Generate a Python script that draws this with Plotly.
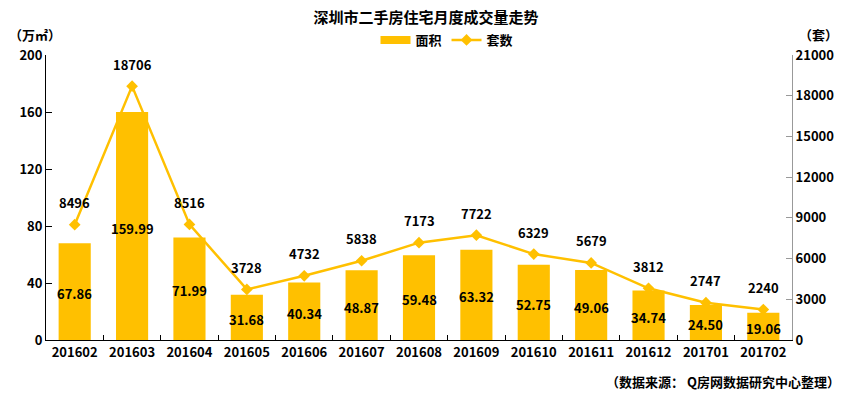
import plotly.graph_objects as go

months = ["201602","201603","201604","201605","201606","201607","201608","201609","201610","201611","201612","201701","201702"]
area = [67.86,159.99,71.99,31.68,40.34,48.87,59.48,63.32,52.75,49.06,34.74,24.50,19.06]
units = [8496,18706,8516,3728,4732,5838,7173,7722,6329,5679,3812,2747,2240]
left_ticks = [0,40,80,120,160,200]
right_ticks = [0,3000,6000,9000,12000,15000,18000,21000]

GOLD = "#FFC000"
FONT = "Noto Sans CJK SC"
L, R, T, B = 46, 60, 55, 55
W, H = 852, 395
PW, PH = W - L - R, H - T - B

def px(xp):
    return (xp - L) / PW

def py(yp):
    return (H - B - yp) / PH

lblfont = dict(family=FONT, size=13, color="black", weight="bold")

fig = go.Figure()
fig.add_trace(go.Bar(
    x=months, y=area, name="面积", marker=dict(color=GOLD, line=dict(width=0)), showlegend=False,
))
# legend-only entry giving a wide rectangular swatch for the bar series
fig.add_trace(go.Scatter(
    x=[None], y=[None], name="面积", mode="lines", line=dict(color=GOLD, width=8),
))
fig.add_trace(go.Scatter(
    x=months, y=units, name="套数", yaxis="y2", mode="lines+markers",
    line=dict(color=GOLD, width=2.5), marker=dict(symbol="diamond", size=9, color=GOLD),
))
for i, v in enumerate(area):
    fig.add_annotation(x=i, y=v / 2, xref="x", yref="y", text=f"{v:.2f}", showarrow=False,
                       xanchor="center", yanchor="middle", yshift=-2, font=lblfont)
for i, u in enumerate(units):
    fig.add_annotation(x=i, y=u, xref="x", yref="y2", text=str(u), showarrow=False,
                       xanchor="center", yanchor="middle", yshift=22, font=lblfont)

tickfont = dict(family=FONT, size=13, color="black", weight="bold")
fig.update_layout(
    width=W, height=H, plot_bgcolor="white", paper_bgcolor="white",
    margin=dict(l=L, r=R, t=T, b=B, autoexpand=False),
    font=dict(family=FONT, size=12, color="black"),
    title=dict(text="<b>深圳市二手房住宅月度成交量走势</b>", x=0.5, xanchor="center", y=1 - 18 / H, yanchor="middle",
               font=dict(family=FONT, size=15, color="black")),
    legend=dict(orientation="h", x=px(447), xanchor="center", y=py(40), yanchor="middle",
                font=dict(family=FONT, size=13, color="black", weight="bold"),
                traceorder="normal"),
    bargap=0.44,
    xaxis=dict(type="category", categoryorder="array", categoryarray=months, range=[-0.5, len(months) - 0.5],
               showline=True, linecolor="black", linewidth=1, ticks="inside", ticklen=5,
               tickcolor="black", tickson="boundaries", tickangle=0, tickfont=tickfont, automargin=False),
    yaxis=dict(range=[0, 200], tickvals=left_ticks, showgrid=False, showline=True, linecolor="black",
               ticks="inside", ticklen=6, tickcolor="black", zeroline=False, tickfont=tickfont,
               automargin=False),
    yaxis2=dict(range=[0, 21000], tickvals=right_ticks, tickformat="d", overlaying="y", side="right",
                showgrid=False, showline=True, linecolor="#999999", ticks="inside", ticklen=6,
                tickcolor="#999999", zeroline=False, tickfont=tickfont, automargin=False),
)
fig.add_annotation(x=px(35), y=py(34), xref="paper", yref="paper", text="<b>（万㎡）</b>", showarrow=False,
                   xanchor="center", yanchor="middle", font=dict(family=FONT, size=13, color="black"))
fig.add_annotation(x=px(818), y=py(34), xref="paper", yref="paper", text="<b>（套）</b>", showarrow=False,
                   xanchor="center", yanchor="middle", font=dict(family=FONT, size=13, color="black"))
fig.add_annotation(x=px(842), y=py(381), xref="paper", yref="paper", xanchor="right", yanchor="middle",
                   text="<b>（数据来源： Q房网数据研究中心整理）</b>",
                   showarrow=False, font=dict(family=FONT, size=13, color="black"))
fig.write_html("out.html", config={"displayModeBar": False},
               post_script="document.body.style.margin='0px';")
